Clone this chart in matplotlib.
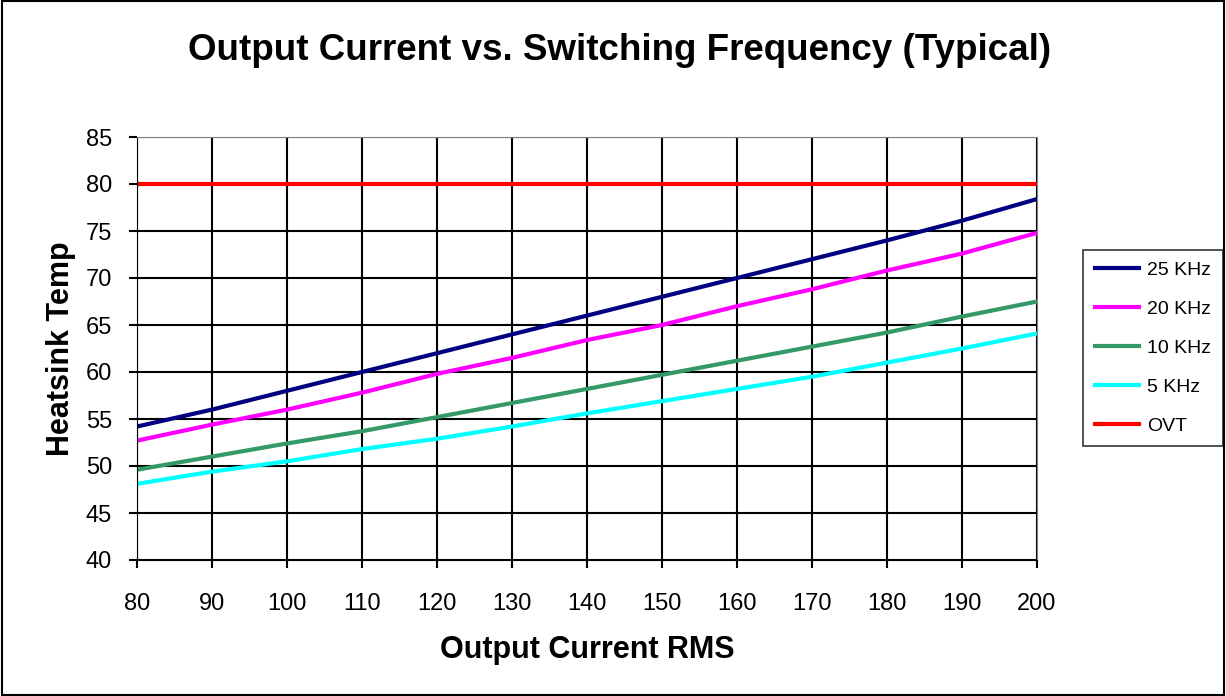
import matplotlib.pyplot as plt
from matplotlib.patches import Rectangle

plt.rcParams['font.family'] = ['Liberation Sans', 'DejaVu Sans']

# Output current (A RMS)
current = [80, 90, 100, 110, 120, 130, 140, 150, 160, 170, 180, 190, 200]

# Heatsink temperature per switching frequency
temp_25k = [54.2, 56.0, 58.0, 60.0, 62.0, 64.0, 66.0, 68.0, 70.0, 72.0, 74.0, 76.1, 78.4]
temp_20k = [52.7, 54.4, 56.0, 57.8, 59.8, 61.5, 63.4, 65.0, 67.0, 68.8, 70.8, 72.6, 74.8]
temp_10k = [49.6, 51.0, 52.4, 53.7, 55.2, 56.7, 58.2, 59.7, 61.2, 62.7, 64.2, 65.9, 67.5]
temp_5k = [48.1, 49.4, 50.5, 51.8, 52.9, 54.2, 55.6, 56.9, 58.2, 59.5, 61.0, 62.5, 64.1]
ovt = [80] * len(current)

labels = ['25 KHz', '20 KHz', '10 KHz', '5 KHz', 'OVT']
colors = ['#000080', '#ff00ff', '#339966', '#00ffff', '#ff0000']

fig = plt.figure(figsize=(12.26, 6.96), dpi=100)
ax = fig.add_axes([137 / 1226, 1 - 560 / 696, 900 / 1226, 423 / 696])

for ys, lab, c in zip([temp_25k, temp_20k, temp_10k, temp_5k, ovt], labels, colors):
    ax.plot(current, ys, color=c, lw=3, label=lab)

ax.set_xlim(80, 200)
ax.set_ylim(40, 85)
ax.set_xticks(range(80, 201, 10))
ax.set_yticks(range(40, 86, 5))
ax.grid(True, color='black', lw=1.5)
ax.tick_params(labelsize=17, length=6, width=1.5, color='black')
ax.tick_params(axis='x', pad=18)
ax.tick_params(axis='y', pad=12)
for s in ['left', 'bottom']:
    ax.spines[s].set_color('black')
for s in ['right', 'top']:
    ax.spines[s].set_color('#808080')

ax.set_xlabel('Output Current RMS', fontsize=22, fontweight='bold', labelpad=14)
ax.set_ylabel('Heatsink Temp', fontsize=22, fontweight='bold', labelpad=7)
fig.text(620 / 1226, 1 - 50 / 696, 'Output Current vs. Switching Frequency (Typical)',
         ha='center', va='center', fontsize=26.5, fontweight='bold')

leg = ax.legend(loc='center left', bbox_to_anchor=(1083 / 1226, 1 - 348 / 696),
                bbox_transform=fig.transFigure, fontsize=14, frameon=True,
                fancybox=False, edgecolor='black', handlelength=2.3,
                labelspacing=1.1, borderpad=0.6, handletextpad=0.4,
                borderaxespad=0)
leg.get_frame().set_linewidth(1.2)

# outer border of the chart area
fig.patches.append(Rectangle((0.002, 0.002), 0.996, 0.996, transform=fig.transFigure,
                             fill=False, edgecolor='black', lw=1.5))

fig.savefig('out.png', dpi=100)
